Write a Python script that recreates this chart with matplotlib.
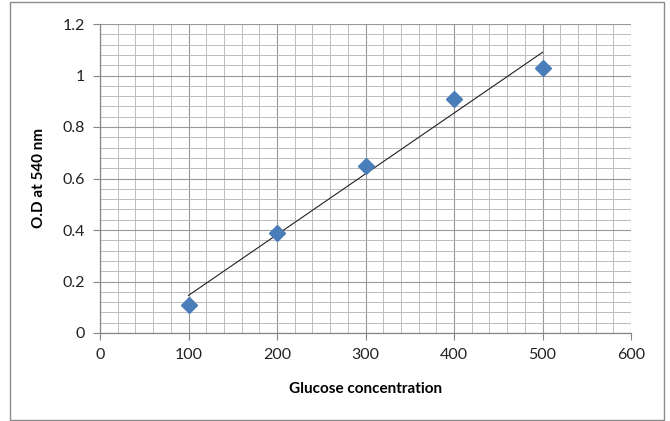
import numpy as np
import matplotlib.pyplot as plt
from matplotlib.patches import Rectangle
from matplotlib.ticker import MultipleLocator

# glucose standard curve
conc = [100, 200, 300, 400, 500]
od = [0.11, 0.39, 0.65, 0.91, 1.03]

plt.rcParams['font.family'] = ['Lato', 'DejaVu Sans']

fig = plt.figure(figsize=(6.7, 4.21), dpi=100)
ax = fig.add_axes([100 / 670, 1 - 333 / 421, 531 / 670, 309 / 421])

# chart area border
fig.patches.append(Rectangle((10 / 670, 1 / 421), 654 / 670, 418 / 421,
                             transform=fig.transFigure, fill=False,
                             edgecolor='#8c8c8c', linewidth=1))

ax.set_xlim(0, 600)
ax.set_ylim(0, 1.2)
ax.xaxis.set_major_locator(MultipleLocator(100))
ax.xaxis.set_minor_locator(MultipleLocator(20))
ax.yaxis.set_major_locator(MultipleLocator(0.2))
ax.yaxis.set_minor_locator(MultipleLocator(0.04))
ax.set_yticks([0, 0.2, 0.4, 0.6, 0.8, 1.0, 1.2])
ax.set_yticklabels(['0', '0.2', '0.4', '0.6', '0.8', '1', '1.2'])

ax.grid(which='major', color='#999999', linewidth=0.8)
ax.grid(which='minor', color='#bcbcbc', linewidth=0.7)
ax.set_axisbelow(True)

for side in ['top', 'right']:
    ax.spines[side].set_visible(False)
for side in ['left', 'bottom']:
    ax.spines[side].set_color('#868686')
    ax.spines[side].set_linewidth(0.9)

ax.tick_params(which='major', length=5, color='#868686', labelsize=11.5,
               labelcolor='#222222', pad=6)
ax.tick_params(which='minor', length=0)

# linear trendline
k, b = np.polyfit(conc, od, 1)
xs = np.array([conc[0], conc[-1]])
ax.plot(xs, k * xs + b, color='#222222', linewidth=0.8, zorder=3)

ax.plot(conc, od, linestyle='none', marker='D', markersize=8,
        color='#4a7ebb', zorder=4)

ax.set_xlabel('Glucose concentration', fontsize=11, fontweight='bold',
              labelpad=14)
ax.set_ylabel('O.D at 540 nm', fontsize=11, fontweight='bold', labelpad=12)

fig.savefig('out.png', dpi=100)
